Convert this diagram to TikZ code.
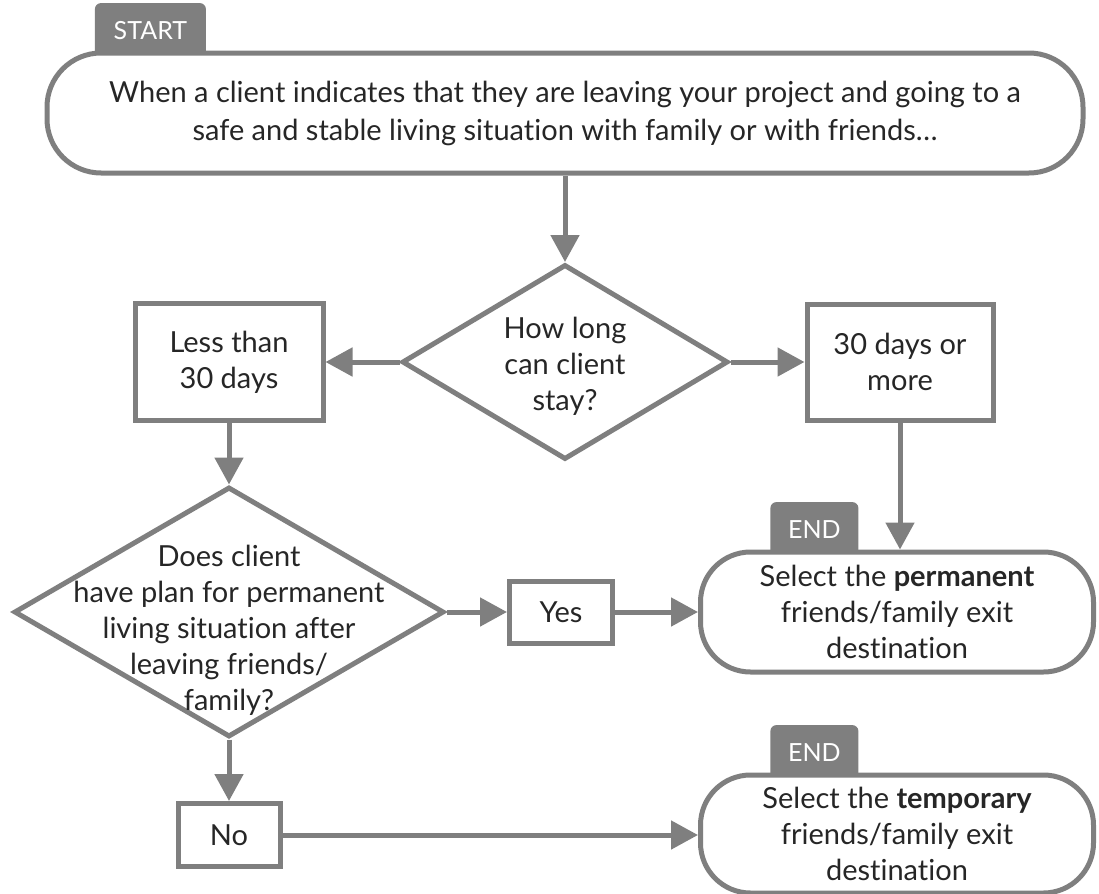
\documentclass[tikz,border=0pt]{standalone}
\usepackage{fontspec}
\setmainfont{Lato}[Ligatures=NoCommon]
\usepackage{tikz}
\usetikzlibrary{shapes.geometric,arrows.meta,backgrounds}
\definecolor{flowgray}{HTML}{7F7F7F}

\begin{document}
\begin{tikzpicture}[x=0.5pt,y=-0.5pt,>={Triangle[length=13.5pt,width=14pt]},
    every node/.style={font=\fontsize{14.5}{18}\selectfont, text=black!85},
    terminal/.style={draw=flowgray, fill=white, line width=2.5pt, rounded corners=25pt, align=center, inner sep=0pt},
    tabbox/.style={fill=flowgray, text=white, rounded corners=3pt, inner sep=0pt, minimum height=27pt, font=\fontsize{12.5}{14}\selectfont},
    choicebox/.style={draw=flowgray, fill=white, line width=2.5pt, align=center, inner sep=0pt},
    decision/.style={draw=flowgray, line width=2.5pt, diamond, inner sep=0pt},
    flow/.style={draw=flowgray, line width=2.5pt, ->}]
    \useasboundingbox (0,0) rectangle (1099,894);

    \node[terminal, rounded corners=27pt, minimum width=518pt, minimum height=60pt] (start) at (565,113)
        {When a client indicates that they are leaving your project and going to a\\[1pt]
         safe and stable living situation with family or with friends\dots};

    \node[decision, minimum width=163pt, minimum height=97.5pt] (howlong) at (565,362) {};
    \node[align=center, yshift=-2pt] (howlongtext) at (howlong) {How long\\can client\\stay?};

    \node[choicebox, minimum width=94pt, minimum height=58.5pt] (less) at (229,362) {Less than\\30 days};
    \node[choicebox, minimum width=93pt, minimum height=58pt] (more) at (900,362) {30 days or\\more};

    \node[decision, minimum width=215pt, minimum height=125pt] (plan) at (229,612) {};
    \node[align=center, yshift=-9pt] (plantext) at (plan)
        {Does client\\have plan for permanent\\living situation after\\leaving friends/\\family?};

    \node[choicebox, minimum width=51.5pt, minimum height=31pt] (yes) at (561,612) {Yes};
    \node[choicebox, minimum width=51pt, minimum height=31.5pt] (no) at (229,835) {No};

    \node[terminal, minimum width=196.5pt, minimum height=60pt] (permanent) at (897,612)
        {Select the \textbf{permanent}\\friends/family exit\\destination};
    \node[terminal, minimum width=196.5pt, minimum height=59pt] (temporary) at (897,834)
        {Select the \textbf{temporary}\\friends/family exit\\destination};

    % tags behind the terminals
    \begin{scope}[on background layer]
        \node[tabbox, anchor=south west, minimum width=55.5pt] (starttag) at ([xshift=25pt,yshift=-3.5pt]start.north west) {START};
        \node[tabbox, anchor=south west, minimum width=44pt] (endtag1) at ([xshift=36pt,yshift=-3.5pt]permanent.north west) {END};
        \node[tabbox, anchor=south west, minimum width=44pt] (endtag2) at ([xshift=36pt,yshift=-3.5pt]temporary.north west) {END};
    \end{scope}

    \draw[flow] (start.south) -- (howlong.north);
    \draw[flow] (howlong.west) -- (howlong.west -| less.east);
    \draw[flow] (howlong.east) -- (howlong.east -| more.west);
    \draw[flow] (less.south) -- (plan.north);
    \draw[flow] (more.south) -- (more.south |- permanent.north);
    \draw[flow] (plan.east) -- (plan.east -| yes.west);
    \draw[flow] (yes.east) -- (yes.east -| permanent.west);
    \draw[flow] (plan.south) -- (no.north);
    \draw[flow] (no.east) -- (no.east -| temporary.west);
\end{tikzpicture}
\end{document}
